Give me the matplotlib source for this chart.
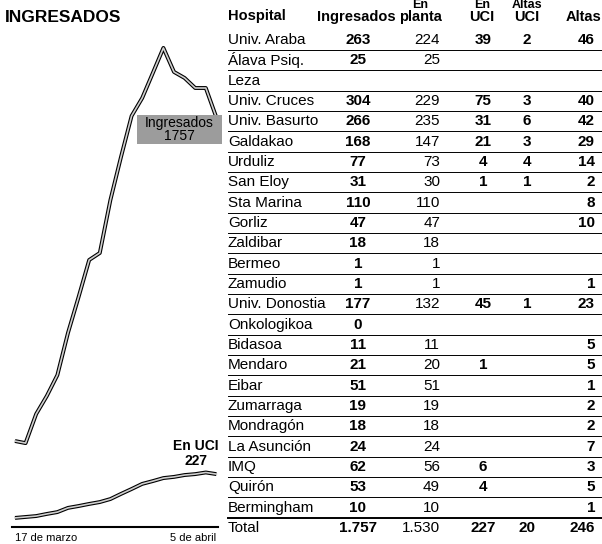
import numpy as np
import matplotlib
matplotlib.use("Agg")
import matplotlib.pyplot as plt
from matplotlib.patches import Rectangle

plt.rcParams['font.family'] = ['Liberation Sans', 'DejaVu Sans']

# evolucion diaria, 17 de marzo - 5 de abril
dias = np.arange(20)
ingresados_dia = [369, 360, 485, 562, 652, 833, 987, 1146, 1176, 1403,
                  1588, 1764, 1841, 1948, 2056, 1953, 1927, 1884, 1884, 1757]
uci_dia = [39, 43, 47, 56, 64, 82, 90, 99, 107, 120,
           142, 163, 185, 197, 210, 215, 223, 227, 234, 227]
fechas = ['17 de marzo', '5 de abril']

# tabla por hospital
hospitales = ['Univ. Araba', 'Álava Psiq.', 'Leza', 'Univ. Cruces', 'Univ. Basurto',
              'Galdakao', 'Urduliz', 'San Eloy', 'Sta Marina', 'Gorliz', 'Zaldibar',
              'Bermeo', 'Zamudio', 'Univ. Donostia', 'Onkologikoa', 'Bidasoa',
              'Mendaro', 'Eibar', 'Zumarraga', 'Mondragón', 'La Asunción', 'IMQ',
              'Quirón', 'Bermingham']
ingresados = [263, 25, None, 304, 266, 168, 77, 31, 110, 47, 18, 1, 1, 177, 0,
              11, 21, 51, 19, 18, 24, 62, 53, 10]
en_planta = [224, 25, None, 229, 235, 147, 73, 30, 110, 47, 18, 1, 1, 132, None,
             11, 20, 51, 19, 18, 24, 56, 49, 10]
en_uci = [39, None, None, 75, 31, 21, 4, 1, None, None, None, None, None, 45, None,
          None, 1, None, None, None, None, 6, 4, None]
altas_uci = [2, None, None, 3, 6, 3, 4, 1, None, None, None, None, None, 1, None,
             None, None, None, None, None, None, None, None, None]
altas = [46, None, None, 40, 42, 29, 14, 2, 8, 10, None, None, 1, 23, None,
         5, 5, 1, 2, 2, 7, 3, 5, 1]

columnas = [ingresados, en_planta, en_uci, altas_uci, altas]
cabecera1 = ['', 'En', 'En', 'Altas', '']
cabecera2 = ['Ingresados', 'planta', 'UCI', 'UCI', 'Altas']


def fmt(v):
    return f"{v:,}".replace(',', '.')


fig = plt.figure(figsize=(6.02, 5.44), dpi=100)
W, H = 602, 544

# --- grafico de evolucion ---
ax = fig.add_axes([12 / W, (H - 527) / H, 206 / W, 487 / H])
for serie in (ingresados_dia, uci_dia):
    ax.plot(dias, serie, color='black', lw=2.8, solid_capstyle='butt', zorder=2)
    ax.plot(dias, serie, color='#cfcfcf', lw=1.2, zorder=3)
ax.set_xlim(-0.28, 19.15)
ax.set_ylim(0, 2090)
for s in ['top', 'right', 'left']:
    ax.spines[s].set_visible(False)
ax.spines['bottom'].set_linewidth(1.5)
ax.set_yticks([])
ax.set_xticks([0, 19], fechas, fontsize=8)
ax.tick_params(axis='x', length=0, pad=4)
lbl = ax.get_xticklabels()
lbl[0].set_ha('left')
lbl[0].set_x(-0.3)
lbl[1].set_ha('right')
ax.patch.set_alpha(0)

# --- capa en pixeles para textos y tabla ---
ov = fig.add_axes([0, 0, 1, 1])
ov.set_xlim(0, W)
ov.set_ylim(H, 0)
ov.axis('off')
ov.patch.set_alpha(0)

ov.text(5, 18, 'INGRESADOS', fontsize=12.5, fontweight='bold', va='center', ha='left')

ov.add_patch(Rectangle((137, 115), 85, 29, facecolor='#9c9c9c', edgecolor='none', zorder=4))
ov.text(179.5, 123, 'Ingresados', fontsize=10, ha='center', va='center', zorder=5)
ov.text(179.5, 136, '1757', fontsize=10, ha='center', va='center', zorder=5)

ov.text(196, 446, 'En UCI', fontsize=10, fontweight='bold', ha='center', va='center')
ov.text(196, 461, str(uci_dia[-1]), fontsize=10, fontweight='bold', ha='center', va='center')

# tabla
col_x = [358, 440, 483, 527, 595]
col_ha = ['center', 'right', 'center', 'center', 'right']
col_bold = [True, False, True, True, True]
head_x = [356, 420, 482, 527, 601]
head_ha = ['center', 'center', 'center', 'center', 'right']

ov.text(228, 16, 'Hospital', fontsize=10.5, fontweight='bold', va='center', ha='left')
for j in range(5):
    ov.text(head_x[j], 5.5, cabecera1[j], fontsize=9, fontweight='bold',
            va='center', ha=head_ha[j])
    ov.text(head_x[j], 17, cabecera2[j], fontsize=10.5, fontweight='bold',
            va='center', ha=head_ha[j])

y0, dy = 40, 20.33
for i, nombre in enumerate(hospitales):
    y = y0 + dy * i
    ov.text(228, y, nombre, fontsize=11, va='center', ha='left')
    for j, col in enumerate(columnas):
        v = col[i]
        if v is None:
            continue
        ov.text(col_x[j], y, fmt(v), fontsize=11, va='center', ha=col_ha[j],
                fontweight='bold' if col_bold[j] else 'normal')
    lw = 1.4 if i == len(hospitales) - 1 else 0.7
    ov.plot([228, 602], [y + 10, y + 10], color='black', lw=lw)

yt = y0 + dy * len(hospitales)
ov.text(228, yt, 'Total', fontsize=11, va='center', ha='left')
for j, col in enumerate(columnas):
    total = sum(v for v in col if v is not None)
    ov.text(col_x[j], yt, fmt(total), fontsize=11, va='center', ha=col_ha[j],
            fontweight='bold' if col_bold[j] else 'normal')

fig.savefig('out.png', dpi=100)
